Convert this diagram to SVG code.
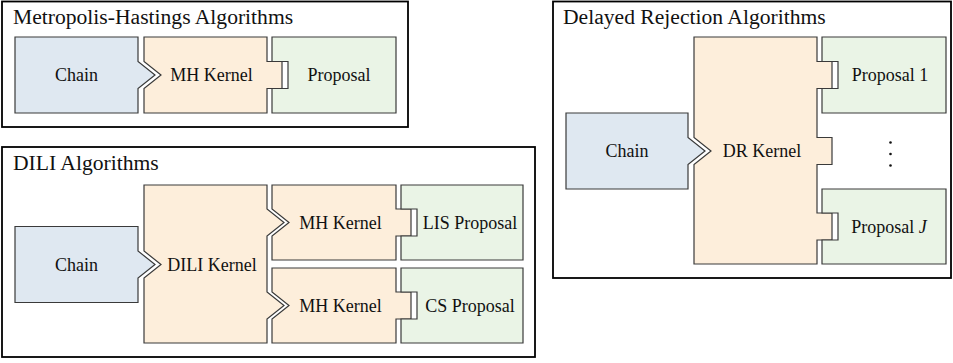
<svg xmlns="http://www.w3.org/2000/svg" width="953" height="363" viewBox="0 0 953 363">
<style>
.frame{fill:#fff;stroke:#000;stroke-width:1.8}
.chain{fill:#dfe8f1;stroke:#3a3a3a;stroke-width:1.2;stroke-linejoin:miter}
.kern{fill:#fdeedb;stroke:#3a3a3a;stroke-width:1.2;stroke-linejoin:miter}
.prop{fill:#eaf4e6;stroke:#3a3a3a;stroke-width:1.2;stroke-linejoin:miter}
</style>
<rect width="953" height="363" fill="#fff"/>
<g font-family="'Liberation Serif', 'DejaVu Serif', serif" fill="#111">

<g id="mh-frame">
<rect class="frame" x="2" y="1.5" width="406" height="125.5"/>
<text x="13" y="24" font-size="21.6">Metropolis-Hastings Algorithms</text>
</g>
<g id="mh-chain">
<path class="chain" d="M15,37 H138 V61.5 L155,75 L138,88.5 V113 H15 Z"/>
<text x="76.5" y="81" font-size="18" text-anchor="middle">Chain</text>
</g>
<g id="mh-kernel">
<path class="kern" d="M144,37 H267 V61.5 H282 V88.5 H267 V113 H144 V88.5 L161,75 L144,61.5 Z"/>
<text x="211.5" y="81" font-size="18" text-anchor="middle">MH Kernel</text>
</g>
<g id="mh-proposal">
<path class="prop" d="M272,37 H396 V113 H272 V88.5 H288 V61.5 H272 Z"/>
<text x="339" y="81" font-size="18" text-anchor="middle">Proposal</text>
</g>

<g id="dili-frame">
<rect class="frame" x="2" y="147" width="533" height="210"/>
<text x="13" y="170" font-size="21.6">DILI Algorithms</text>
</g>
<g id="dili-chain">
<path class="chain" d="M15,226.5 H138 V251 L155,264.5 L138,278 V302.5 H15 Z"/>
<text x="76.5" y="270.5" font-size="18" text-anchor="middle">Chain</text>
</g>
<g id="dili-kernel">
<path class="kern" d="M144,185 H267 V209 L284,222.5 L267,236 V292 L284,305.5 L267,319 V343 H144 V278 L161,264.5 L144,251 Z"/>
<text x="212" y="270.5" font-size="18" text-anchor="middle">DILI Kernel</text>
</g>
<g id="dili-mh-kernel-1">
<path class="kern" d="M272,185 H396 V209 H411 V236 H396 V260 H272 V236 L289,222.5 L272,209 Z"/>
<text x="340.5" y="228.5" font-size="18" text-anchor="middle">MH Kernel</text>
</g>
<g id="dili-mh-kernel-2">
<path class="kern" d="M272,268 H396 V292 H411 V319 H396 V343 H272 V319 L289,305.5 L272,292 Z"/>
<text x="340.5" y="311.5" font-size="18" text-anchor="middle">MH Kernel</text>
</g>
<g id="dili-lis-proposal">
<path class="prop" d="M401,185 H523 V260 H401 V236 H417 V209 H401 Z"/>
<text x="470" y="228.5" font-size="18" text-anchor="middle">LIS Proposal</text>
</g>
<g id="dili-cs-proposal">
<path class="prop" d="M401,268 H523 V343 H401 V319 H417 V292 H401 Z"/>
<text x="470" y="311.5" font-size="18" text-anchor="middle">CS Proposal</text>
</g>

<g id="dr-frame">
<rect class="frame" x="553" y="1.5" width="398" height="276.5"/>
<text x="563" y="24" font-size="21.6">Delayed Rejection Algorithms</text>
</g>
<g id="dr-chain">
<path class="chain" d="M566,113 H688 V137.5 L705,151 L688,164.5 V189 H566 Z"/>
<text x="627" y="157" font-size="18" text-anchor="middle">Chain</text>
</g>
<g id="dr-kernel">
<path class="kern" d="M694,37 H817 V61.5 H832 V88.5 H817 V137.5 H832 V164.5 H817 V213 H832 V240 H817 V264 H694 V164.5 L711,151 L694,137.5 Z"/>
<text x="762" y="157" font-size="18" text-anchor="middle">DR Kernel</text>
</g>
<g id="dr-proposal-1">
<path class="prop" d="M822,37 H946 V113 H822 V88.5 H838 V61.5 H822 Z"/>
<text x="890" y="81" font-size="18" text-anchor="middle">Proposal 1</text>
</g>
<g id="dr-proposal-j">
<path class="prop" d="M822,189 H946 V264 H822 V240 H838 V213 H822 Z"/>
<text x="889" y="232.5" font-size="18" text-anchor="middle">Proposal <tspan font-style="italic">J</tspan></text>
</g>
<g id="dr-vdots">
<circle cx="890.5" cy="142.5" r="1.3"/>
<circle cx="890.5" cy="154" r="1.3"/>
<circle cx="890.5" cy="165.5" r="1.3"/>
</g>
</g>
<g id="connectors"/>
</svg>
